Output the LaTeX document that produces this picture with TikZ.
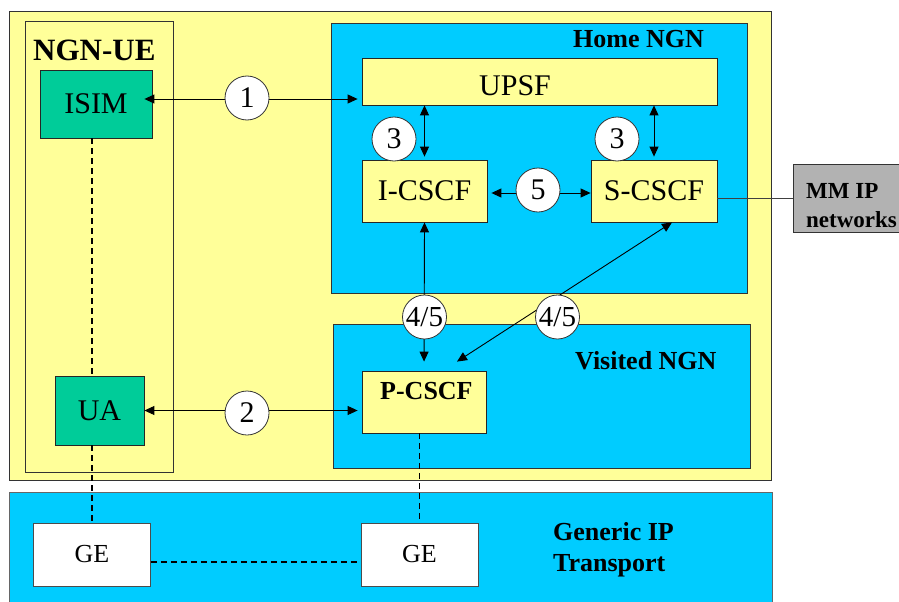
\documentclass[tikz,border=0pt]{standalone}
\usepackage{fontspec}
\setmainfont{Liberation Serif}
\usetikzlibrary{arrows.meta,fit,calc}
\definecolor{ylw}{HTML}{FFFF99}
\definecolor{cyanb}{HTML}{00CCFF}
\definecolor{grn}{HTML}{00CC99}
\definecolor{gry}{HTML}{B2B2B2}
\begin{document}
\begin{tikzpicture}[x=1pt,y=-1pt,
  >={Triangle[length=10pt,width=9pt]},
  region/.style={draw=black!80, line width=0.8pt, inner sep=0pt},
  box/.style={draw=black!85, line width=0.8pt, inner sep=0pt, fill=ylw, font=\fontsize{30}{36}\selectfont},
  gebox/.style={box, fill=white, draw=black!70, minimum width=117, minimum height=63, font=\fontsize{26}{30}\selectfont},
  blbl/.style={anchor=base west, inner sep=0pt, font=\bfseries\fontsize{26}{30}\selectfont},
  circ/.style={circle, draw=black!80, line width=0.8pt, fill=white, minimum size=44, inner sep=0pt, font=\fontsize{30}{36}\selectfont},
  arr/.style={<->, line width=0.9pt},
  dline/.style={line width=1.8pt, dash pattern=on 6pt off 4pt}
]
\useasboundingbox (0,0) rectangle (899,602);
\clip (0,0) rectangle (899,602);

% regions
\node[region, fill=ylw, fit={(9,11)(771,480)}] (ngn) {};
\node[region, fill=ylw, fit={(25,21)(173,472)}] (ue) {};
\node[region, fill=cyanb, fit={(331,23)(747,293)}] (home) {};
\node[region, fill=cyanb, fit={(333,324)(750,468)}] (visited) {};
\node[region, fill=cyanb, draw=black!60, fit={(9,492)(772,615)}] (trans) {};

% boxes
\node[box, fill=grn, minimum width=112, minimum height=68] (isim) at (96,104) {ISIM};
\node[box, minimum width=355, minimum height=47] (upsf) at (539.5,81.5) {};
\node[anchor=base west, inner sep=0pt, font=\fontsize{30}{36}\selectfont] (upsflbl) at (479,95) {UPSF};
\node[box, minimum width=125, minimum height=62] (icscf) at (424.5,191) {I-CSCF};
\node[box, minimum width=126, minimum height=62] (scscf) at (654,191) {S-CSCF};
\node[box, fill=gry, draw=black!80, minimum width=120, minimum height=68] (mm) at (853,198) {};
\node[blbl, font=\bfseries\fontsize{23}{28}\selectfont] (mm1) at (806,198) {MM IP};
\node[blbl, font=\bfseries\fontsize{23}{28}\selectfont] (mm2) at (806,227) {networks};
\node[box, minimum width=124, minimum height=62] (pcscf) at (424,402) {};
\node[blbl] (pcscflbl) at (380,399) {P-CSCF};
\node[box, fill=grn, minimum width=89, minimum height=69] (ua) at (99.5,410.5) {UA};
\node[gebox] (gel) at (92,554.5) {GE};
\node[gebox] (ger) at (419.5,554.5) {GE};

% labels
\node[blbl, font=\bfseries\fontsize{31}{36}\selectfont] (uelbl) at (33,60) {NGN-UE};
\node[blbl] (homelbl) at (573,48) {Home NGN};
\node[blbl] (vislbl) at (575,369) {Visited NGN};
\node[blbl] (tr1) at (553,540) {Generic IP};
\node[blbl] (tr2) at (553,571) {Transport};

% dashed links
\draw[dline] (isim.south -| gel.north) -- (ua.north -| gel.north);
\draw[dline] (ua.south -| gel.north) -- (gel.north);
\draw[dline] (pcscf.south -| ger.north) -- (ger.north);
\draw[dline] ([yshift=-7.5pt]gel.east) -- ([yshift=-7.5pt]ger.west);

% arrows
\draw[arr, shorten <=-8pt, shorten >=4pt] ([yshift=5pt]isim.east) -- ([yshift=5pt]isim.east -| upsf.west);
\draw[arr, shorten >=4pt] (ua.east) -- (ua.east -| pcscf.west);
\draw[arr, shorten >=3pt] (upsf.south -| icscf.north) -- (icscf.north);
\draw[arr, shorten >=3pt] (upsf.south -| scscf.north) -- (scscf.north);
\draw[arr, shorten <=4pt] ([yshift=-2pt]icscf.east) -- ([yshift=-2pt]icscf.east -| scscf.west);
\draw[arr, shorten >=9pt] (icscf.south) -- (pcscf.north);
\draw[arr] ([xshift=18pt]scscf.south) -- ([xshift=33pt,yshift=9pt]pcscf.north);
\draw[black!75, line width=0.8pt] (mm.west -| scscf.east) -- (mm.west);

% circles
\node[circ] (c1) at (247,98) {1};
\node[circ] (c2) at (247,413) {2};
\node[circ] (c3a) at (394,139) {3};
\node[circ] (c3b) at (617,139) {3};
\node[circ] (c5) at (538,190) {5};
\node[circ, font=\fontsize{29}{34}\selectfont] (c45a) at (424.5,317) {4/5};
\node[circ, font=\fontsize{29}{34}\selectfont] (c45b) at (557.5,317) {4/5};
\end{tikzpicture}
\end{document}
